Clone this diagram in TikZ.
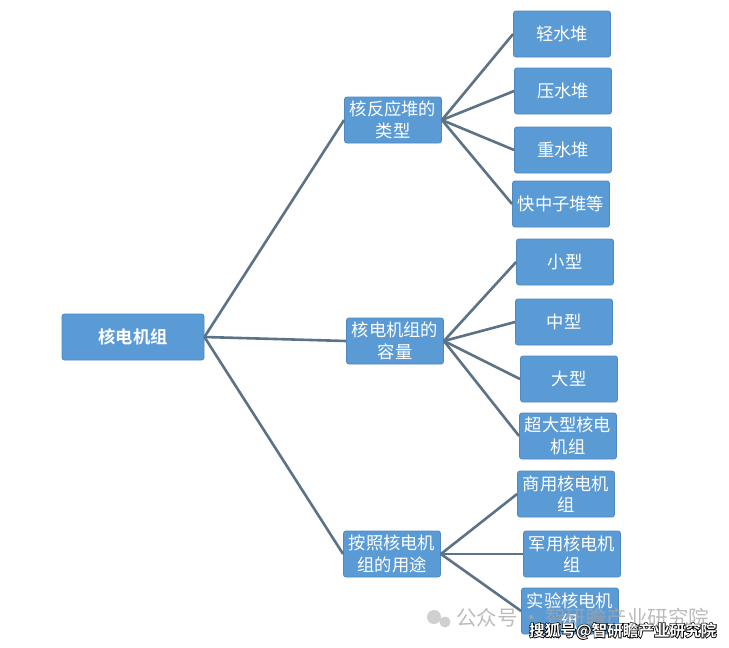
\documentclass[tikz,border=0pt]{standalone}
\usepackage{fontspec}
\newfontfamily\cjk{Noto Sans CJK SC}
\newfontfamily\cjkb{Noto Sans CJK SC Bold}
\newfontfamily\wmhalo[FakeBold=9]{Noto Sans CJK SC Bold}
\begin{document}
\begin{tikzpicture}[x=1pt,y=-1pt,
  box/.style={draw=boxedge,line width=0.8pt,fill=boxfill,rounded corners=2.5pt,
    text=white,font=\cjk\fontsize{17.3}{21.5}\selectfont,align=center,inner sep=0pt},
  leaf/.style={box,minimum width=97,minimum height=46,text width=95},
  mid/.style={box,minimum width=97,minimum height=46,text width=96},
  link/.style={draw=linec,line width=2.6pt}]
\definecolor{boxfill}{HTML}{5B9BD5}
\definecolor{boxedge}{HTML}{4F89C0}
\definecolor{linec}{HTML}{5B7287}
\useasboundingbox[fill=white] (0,0) rectangle (729,648);

\node[box,minimum width=142,minimum height=46,font=\cjkb\fontsize{17.3}{20}\selectfont] (root) at (133,337) {核电机组};

\node[mid] (m1) at (393,120) {核反应堆的\\类型};
\node[mid] (m2) at (395,341) {核电机组的\\容量};
\node[mid] (m3) at (392,554) {按照核电机\\组的用途};

\node[leaf] (a1) at (562,34) {轻水堆};
\node[leaf] (a2) at (563,91) {压水堆};
\node[leaf] (a3) at (563,150) {重水堆};
\node[leaf] (a4) at (561,204) {快中子堆等};

\node[leaf] (b1) at (565,262) {小型};
\node[leaf] (b2) at (564,322) {中型};
\node[leaf] (b3) at (569,379) {大型};
\node[leaf] (b4) at (568,436) {超大型核电\\机组};

\node[leaf] (c1) at (566,494) {商用核电机\\组};
\node[leaf] (c2) at (572,554) {军用核电机\\组};
\node[leaf] (c3) at (570,611) {实验核电机\\组};

\draw[link] (root.east) -- (m1.west);
\draw[link] (root.east) -- (m2.west);
\draw[link] (root.east) -- (m3.west);
\foreach \t in {a1,a2,a3,a4} \draw[link] (m1.east) -- (\t.west);
\foreach \t in {b1,b2,b3,b4} \draw[link] (m2.east) -- (\t.west);
\foreach \t in {c1,c2,c3} \draw[link] (m3.east) -- (\t.west);

% watermarks
\node[fill=black!30,opacity=0.6,circle,minimum size=14,inner sep=0] (w1) at (434,617) {};
\node[fill=black!30,opacity=0.6,circle,minimum size=11,inner sep=0] (w2) at (445,622) {};
\node[anchor=west,text=black!35,opacity=0.75,font=\cjk\fontsize{20.5}{22}\selectfont,inner sep=0] (wm1) at (456,618) {公众号\,·\,智研瞻产业研究院};
\node[anchor=west,inner sep=0,text=black,font=\wmhalo\fontsize{15.6}{18}\selectfont] (wm2h) at (529,631) {搜狐号@智研瞻产业研究院};
\node[anchor=west,inner sep=0,text=white,font=\cjkb\fontsize{15.6}{18}\selectfont] (wm2) at (529,631) {搜狐号@智研瞻产业研究院};
\end{tikzpicture}
\end{document}
